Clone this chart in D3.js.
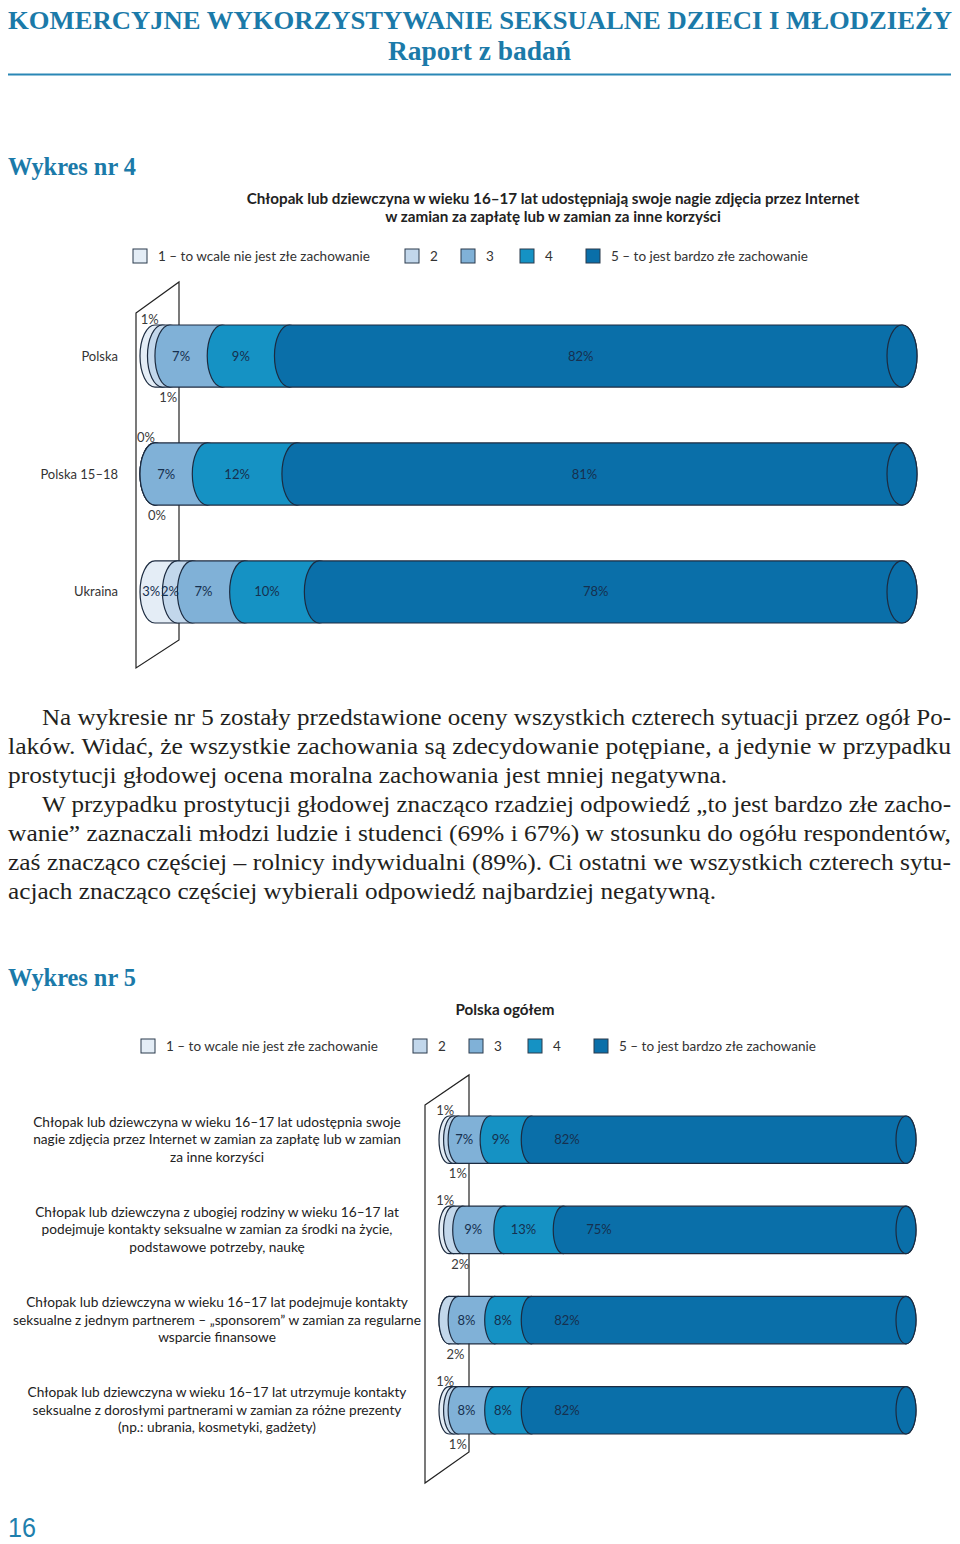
<!DOCTYPE html>
<html lang="pl">
<head>
<meta charset="UTF-8">
<title>Wykres nr 4 i 5</title>
<script src="https://d3js.org/d3.v7.min.js"></script>
<style>
  body { margin: 0; background: #fff; }
  svg { display: block; }
  .sans { font-family: Lato, "Open Sans", sans-serif; }
  .serif { font-family: "Liberation Serif", "DejaVu Serif", serif; }
</style>
</head>
<body>
<svg width="960" height="1544"></svg>
<script>
// answer scale, shared by both charts
const legendLabels = ["1 – to wcale nie jest złe zachowanie", "2", "3", "4", "5 – to jest bardzo złe zachowanie"];
const colors = ["#e4edf6", "#c2d7eb", "#80b1d7", "#1592c4", "#0a6fa9"];

// Wykres nr 4
const rows4 = ["Polska", "Polska 15–18", "Ukraina"];
const values4 = [
  [1, 1, 7, 9, 82],
  [0, 0, 7, 12, 81],
  [3, 2, 7, 10, 78]
];

// Wykres nr 5
const rows5 = [
  ["Chłopak lub dziewczyna w wieku 16–17 lat udostępnia swoje", "nagie zdjęcia przez Internet w zamian za zapłatę lub w zamian", "za inne korzyści"],
  ["Chłopak lub dziewczyna z ubogiej rodziny w wieku 16–17 lat", "podejmuje kontakty seksualne w zamian za środki na życie,", "podstawowe potrzeby, naukę"],
  ["Chłopak lub dziewczyna w wieku 16–17 lat podejmuje kontakty", "seksualne z jednym partnerem – „sponsorem” w zamian za regularne", "wsparcie finansowe"],
  ["Chłopak lub dziewczyna w wieku 16–17 lat utrzymuje kontakty", "seksualne z dorosłymi partnerami w zamian za różne prezenty", "(np.: ubrania, kosmetyki, gadżety)"]
];
const values5 = [
  [1, 1, 7, 9, 82],
  [1, 2, 9, 13, 75],
  [0, 2, 8, 8, 82],
  [1, 1, 8, 8, 82]
];

const bodyLines = [
  "Na wykresie nr 5 zostały przedstawione oceny wszystkich czterech sytuacji przez ogół Po-",
  "laków. Widać, że wszystkie zachowania są zdecydowanie potępiane, a jedynie w przypadku",
  "prostytucji głodowej ocena moralna zachowania jest mniej negatywna.",
  "W przypadku prostytucji głodowej znacząco rzadziej odpowiedź „to jest bardzo złe zacho-",
  "wanie” zaznaczali młodzi ludzie i studenci (69% i 67%) w stosunku do ogółu respondentów,",
  "zaś znacząco częściej – rolnicy indywidualni (89%). Ci ostatni we wszystkich czterech sytu-",
  "acjach znacząco częściej wybierali odpowiedź najbardziej negatywną."
];

const svg = d3.select("svg");
const blue = "#1b7aa9";
const edge = "#1c2b40";

// --- page header ---
svg.append("text").attr("class", "serif")
  .attr("x", 8).attr("y", 29)
  .attr("font-size", 25).attr("font-weight", "bold").attr("fill", blue)
  .attr("textLength", 944).attr("lengthAdjust", "spacingAndGlyphs")
  .text("KOMERCYJNE WYKORZYSTYWANIE SEKSUALNE DZIECI I MŁODZIEŻY");
svg.append("text").attr("class", "serif")
  .attr("x", 388).attr("y", 60)
  .attr("font-size", 27).attr("font-weight", "bold").attr("fill", blue)
  .attr("textLength", 183).attr("lengthAdjust", "spacingAndGlyphs")
  .text("Raport z badań");
svg.append("line")
  .attr("x1", 8).attr("x2", 951).attr("y1", 74.5).attr("y2", 74.5)
  .attr("stroke", "#2a87b6").attr("stroke-width", 2);

function heading(txt, y) {
  svg.append("text").attr("class", "serif")
    .attr("x", 8).attr("y", y)
    .attr("font-size", 25).attr("font-weight", "bold").attr("fill", blue)
    .attr("textLength", 128).attr("lengthAdjust", "spacingAndGlyphs")
    .text(txt);
}

function legend(x0, y) {
  const offsets = [0, 272, 328, 387, 453];
  const g = svg.append("g").attr("class", "sans");
  legendLabels.forEach((lab, i) => {
    g.append("rect")
      .attr("x", x0 + offsets[i]).attr("y", y - 7)
      .attr("width", 14).attr("height", 14)
      .attr("fill", colors[i]).attr("stroke", "#2b3a4c").attr("stroke-width", 1);
    g.append("text")
      .attr("x", x0 + offsets[i] + 25).attr("y", y + 4.5)
      .attr("font-size", 13.5).attr("fill", "#333")
      .text(lab);
  });
}

// stacked cylinder bars
function cylinders(cfg) {
  const x = d3.scaleLinear().domain([0, 100]).range(cfg.xRange);
  const y = d3.scaleBand().domain(d3.range(cfg.values.length)).range(cfg.yRange).paddingInner(0.474);
  const rx = cfg.rx;
  const g = svg.append("g").attr("class", "sans");
  const f = cfg.frame, x0 = x(0), top = cfg.yRange[0], bot = cfg.yRange[1];

  g.append("path")
    .attr("d", `M${x0 + f.l},${top + f.tl}L${x0 + f.r},${top + f.tr}L${x0 + f.r},${bot + f.br}L${x0 + f.l},${bot + f.bl}Z`)
    .attr("fill", "none").attr("stroke", "#222").attr("stroke-width", 1.2);

  cfg.values.forEach((vals, r) => {
    const yt = y(r), ry = y.bandwidth() / 2, yb = yt + 2 * ry, yc = yt + ry;
    const starts = [0];
    vals.forEach(v => starts.push(starts[starts.length - 1] + v));

    vals.forEach((v, i) => {
      const a = x(starts[i]), b = x(starts[i] + v);
      g.append("path")
        .attr("d", `M${a},${yt}L${b},${yt}A${rx},${ry} 0 0 1 ${b},${yb}L${a},${yb}A${rx},${ry} 0 0 1 ${a},${yt}Z`)
        .attr("fill", colors[i]).attr("stroke", edge).attr("stroke-width", 1.2);
    });
    g.append("ellipse")
      .attr("cx", x(100)).attr("cy", yc).attr("rx", rx).attr("ry", ry)
      .attr("fill", colors[4]).attr("stroke", edge).attr("stroke-width", 1.2);

    vals.forEach((v, i) => {
      if (v === 0 && !cfg.showZero) return;
      const a = x(starts[i]), b = x(starts[i] + v);
      const t = g.append("text").attr("font-size", 13).attr("text-anchor", "middle").text(v + "%");
      if (i < 2 && b - a < 14) {
        if (i === 0) t.attr("x", (a + b) / 2 - rx * 0.6).attr("y", yt - 1);
        else t.attr("x", (a + b) / 2 + 2).attr("y", yb + 15);
        t.attr("fill", "#3a3a3a");
      } else {
        t.attr("x", x(starts[i] + Math.min(v / 2, cfg.labelCap)) - rx)
          .attr("y", yc + 4.5).attr("fill", "#16304f");
      }
    });

    cfg.rowLabel(g, cfg.rows[r], yc);
  });
}

// --- Wykres nr 4 ---
heading("Wykres nr 4", 175);
svg.append("text").attr("class", "sans")
  .attr("x", 553).attr("y", 204).attr("text-anchor", "middle")
  .attr("font-size", 15.2).attr("font-weight", "bold").attr("fill", "#222")
  .text("Chłopak lub dziewczyna w wieku 16–17 lat udostępniają swoje nagie zdjęcia przez Internet");
svg.append("text").attr("class", "sans")
  .attr("x", 553).attr("y", 222).attr("text-anchor", "middle")
  .attr("font-size", 15.2).attr("font-weight", "bold").attr("fill", "#222")
  .text("w zamian za zapłatę lub w zamian za inne korzyści");
legend(133, 256);

cylinders({
  rows: rows4, values: values4,
  xRange: [155, 902], yRange: [325, 623], rx: 15,
  labelCap: Infinity, showZero: true,
  frame: { l: -19, r: 24, tl: -12, tr: -43, bl: 45, br: 17 },
  rowLabel: (g, name, yc) => g.append("text")
    .attr("x", 118).attr("y", yc + 4.5).attr("text-anchor", "end")
    .attr("font-size", 13).attr("fill", "#333").text(name)
});

// --- body text ---
const lineWidths = [909, 943, 719, 909, 943, 943, 708];
const lineIndent = [42, 8, 8, 42, 8, 8, 8];
bodyLines.forEach((s, i) => {
  svg.append("text").attr("class", "serif")
    .attr("x", lineIndent[i]).attr("y", 725 + i * 29)
    .attr("font-size", 23).attr("fill", "#231f20")
    .attr("textLength", lineWidths[i]).attr("lengthAdjust", "spacingAndGlyphs")
    .text(s);
});

// --- Wykres nr 5 ---
heading("Wykres nr 5", 986);
svg.append("text").attr("class", "sans")
  .attr("x", 505).attr("y", 1015).attr("text-anchor", "middle")
  .attr("font-size", 15.2).attr("font-weight", "bold").attr("fill", "#222")
  .text("Polska ogółem");
legend(141, 1046);

cylinders({
  rows: rows5, values: values5,
  xRange: [449, 906], yRange: [1116, 1434], rx: 10,
  labelCap: 10, showZero: false,
  frame: { l: -24, r: 20, tl: -11, tr: -41, bl: 49, br: 18 },
  rowLabel: (g, lines, yc) => lines.forEach((s, k) => g.append("text")
    .attr("x", 217).attr("y", yc + (k - 1) * 17.5 + 4.5).attr("text-anchor", "middle")
    .attr("font-size", 13.7).attr("fill", "#222").text(s))
});

// page number
svg.append("text")
  .attr("x", 8).attr("y", 1537)
  .attr("font-family", "'Liberation Sans Narrow', 'Liberation Sans', sans-serif")
  .attr("font-size", 28).attr("fill", "#1f7fad")
  .attr("textLength", 28).attr("lengthAdjust", "spacingAndGlyphs")
  .text("16");
</script>
</body>
</html>
